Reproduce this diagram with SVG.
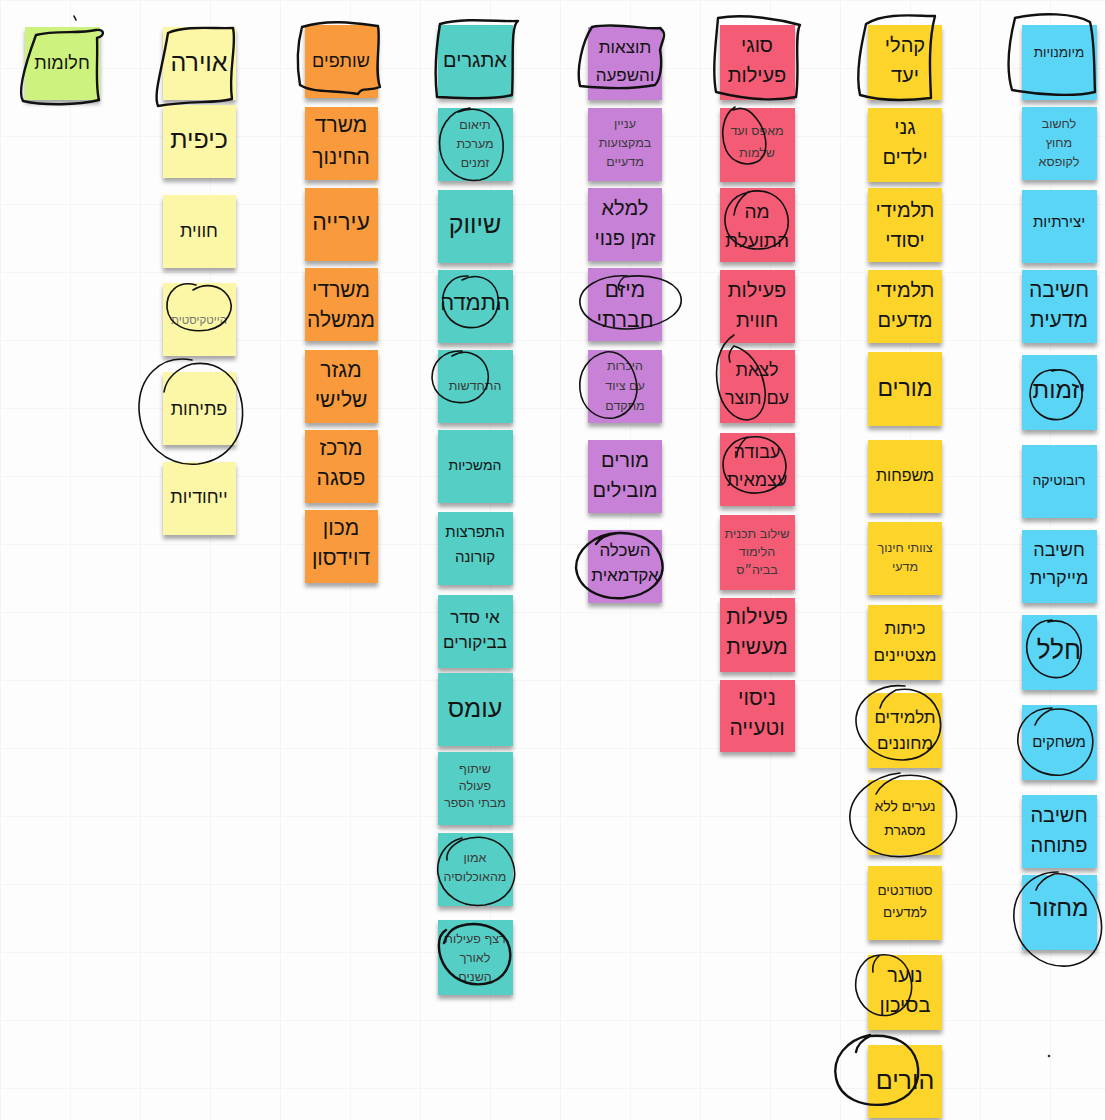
<svg xmlns="http://www.w3.org/2000/svg" width="1105" height="1120" viewBox="0 0 1105 1120">
<defs>
<pattern id="grid" width="70" height="68" patternUnits="userSpaceOnUse">
<path d="M70,0 L0,0 0,68" fill="none" stroke="#eeeeee" stroke-width="1"/>
</pattern>
<filter id="sh" x="-10%" y="-10%" width="120%" height="130%">
<feDropShadow dx="0" dy="4" stdDeviation="2" flood-color="#000" flood-opacity="0.35"/>
</filter>
</defs>
<style>
.n{filter:url(#sh)}
.green{fill:#cdf27e}
.ly{fill:#fcf7a6}
.or{fill:#f99b3c}
.te{fill:#55cfc5}
.pu{fill:#c781d6}
.rd{fill:#f45b74}
.go{fill:#fdd42a}
.bl{fill:#5ad5f6}
text{font-family:"Liberation Sans","DejaVu Sans",sans-serif;text-anchor:middle;fill:#141414;direction:rtl}
.xl{font-size:25px}
.l{font-size:21px}
.m{font-size:18px}
.s{font-size:14px}
.xs{font-size:12.5px;fill:#3a3a3a}
.ink{fill:none;stroke:#111;stroke-width:2.4;stroke-linecap:round;stroke-linejoin:round}
.ink2{fill:none;stroke:#111;stroke-width:1.6;stroke-linecap:round}
</style>
<rect width="1105" height="1120" fill="#fdfdfd"/>
<rect width="1105" height="1120" fill="url(#grid)"/>

<!-- Column 1 -->
<g id="n-chalomot"><rect class="n green" x="25" y="27" width="75" height="73"/><text class="m" x="62" y="69">חלומות</text></g>

<!-- Column 2 -->
<g id="n-avira"><rect class="n ly" x="163" y="27" width="73" height="73"/><text class="xl" x="199" y="71">אוירה</text></g>
<g id="n-kefit"><rect class="n ly" x="163" y="105" width="73" height="73"/><text class="xl" x="199" y="148">כיפית</text></g>
<g id="n-chavayatit"><rect class="n ly" x="163" y="195" width="73" height="73"/><text class="m" x="199" y="237">חווית</text></g>
<g id="n-hitech"><rect class="n ly" x="163" y="283" width="73" height="73"/><text x="199" y="324" style="font-size:11.5px;fill:#777">הייטקיסטית</text></g>
<g id="n-ptichut"><rect class="n ly" x="163" y="372" width="73" height="73"/><text class="m" x="199" y="415">פתיחות</text></g>
<g id="n-yichudiut"><rect class="n ly" x="163" y="462" width="73" height="73"/><text class="m" x="199" y="503">ייחודיות</text></g>

<!-- Column 3 -->
<g id="n-shutafim"><rect class="n or" x="305" y="25" width="73" height="73"/><text class="m" x="341" y="67">שותפים</text></g>
<g id="n-misrad"><rect class="n or" x="305" y="107" width="73" height="73"/><text class="l" x="341" y="132">משרד</text><text class="l" x="341" y="164">החינוך</text></g>
<g id="n-iriya"><rect class="n or" x="305" y="188" width="73" height="73"/><text class="l" x="341" y="230" style="font-size:23px">עירייה</text></g>
<g id="n-misradei"><rect class="n or" x="305" y="268" width="73" height="73"/><text class="l" x="341" y="297">משרדי</text><text class="l" x="341" y="327">ממשלה</text></g>
<g id="n-migzar"><rect class="n or" x="305" y="350" width="73" height="73"/><text class="l" x="341" y="377">מגזר</text><text class="l" x="341" y="407">שלישי</text></g>
<g id="n-pisga"><rect class="n or" x="305" y="430" width="73" height="73"/><text class="l" x="341" y="455">מרכז</text><text class="l" x="341" y="485">פסגה</text></g>
<g id="n-davidson"><rect class="n or" x="305" y="510" width="73" height="73"/><text class="l" x="341" y="535">מכון</text><text class="l" x="341" y="565">דוידסון</text></g>

<!-- Column 4 -->
<g id="n-etgarim"><rect class="n te" x="438" y="25" width="75" height="73"/><text class="l" x="475" y="67" style="font-size:20px">אתגרים</text></g>
<g id="n-teum"><rect class="n te" x="438" y="108" width="75" height="73"/><text class="xs" x="475" y="129">תיאום</text><text class="xs" x="475" y="148">מערכת</text><text class="xs" x="475" y="167">זמנים</text></g>
<g id="n-shivuk"><rect class="n te" x="438" y="190" width="75" height="73"/><text class="xl" x="475" y="233">שיווק</text></g>
<g id="n-hatmada"><rect class="n te" x="438" y="270" width="75" height="73"/><text class="l" x="475" y="310" style="font-size:22px">התמדה</text></g>
<g id="n-hitchadshut"><rect class="n te" x="438" y="350" width="75" height="73"/><text class="xs" x="475" y="390">התחדשות</text></g>
<g id="n-hemshechiut"><rect class="n te" x="438" y="430" width="75" height="73"/><text class="s" x="475" y="470">המשכיות</text></g>
<g id="n-corona"><rect class="n te" x="438" y="512" width="75" height="73"/><text class="s" x="475" y="537" style="font-size:15px">התפרצות</text><text class="s" x="475" y="562" style="font-size:15px">קורונה</text></g>
<g id="n-iseder"><rect class="n te" x="438" y="595" width="75" height="73"/><text class="m" x="475" y="623" style="font-size:17px">אי סדר</text><text class="m" x="475" y="648" style="font-size:17px">בביקורים</text></g>
<g id="n-omes"><rect class="n te" x="438" y="673" width="75" height="73"/><text class="xl" x="475" y="717">עומס</text></g>
<g id="n-shituf"><rect class="n te" x="438" y="752" width="75" height="73"/><text class="xs" x="475" y="773">שיתוף</text><text class="xs" x="475" y="790">פעולה</text><text class="xs" x="475" y="807">מבתי הספר</text></g>
<g id="n-emun"><rect class="n te" x="438" y="833" width="75" height="73"/><text class="xs" x="475" y="862">אמון</text><text class="xs" x="475" y="881">מהאוכלוסיה</text></g>
<g id="n-retzef"><rect class="n te" x="438" y="920" width="75" height="75"/><text class="xs" x="475" y="943">רצף פעילות</text><text class="xs" x="475" y="962">לאורך</text><text class="xs" x="475" y="981">השנים</text></g>

<!-- Column 5 -->
<g id="n-totzaot"><rect class="n pu" x="588" y="27" width="74" height="73"/><text class="m" x="625" y="53" style="font-size:17px">תוצאות</text><text class="m" x="625" y="81" style="font-size:17px">והשפעה</text></g>
<g id="n-inyan"><rect class="n pu" x="588" y="108" width="74" height="73"/><text class="xs" x="625" y="128">עניין</text><text class="xs" x="625" y="147">במקצועות</text><text class="xs" x="625" y="166">מדעיים</text></g>
<g id="n-lemale"><rect class="n pu" x="588" y="188" width="74" height="73"/><text class="l" x="625" y="215" style="font-size:20px">למלא</text><text class="l" x="625" y="245" style="font-size:20px">זמן פנוי</text></g>
<g id="n-mizam"><rect class="n pu" x="588" y="268" width="74" height="73"/><text class="l" x="625" y="297">מיזם</text><text class="l" x="625" y="327">חברתי</text></g>
<g id="n-hekerut"><rect class="n pu" x="588" y="350" width="74" height="73"/><text class="xs" x="625" y="370">היכרות</text><text class="xs" x="625" y="390">עם ציוד</text><text class="xs" x="625" y="410">מתקדם</text></g>
<g id="n-morim-movilim"><rect class="n pu" x="588" y="440" width="74" height="73"/><text class="l" x="625" y="467" style="font-size:20px">מורים</text><text class="l" x="625" y="497" style="font-size:20px">מובילים</text></g>
<g id="n-haskala"><rect class="n pu" x="588" y="530" width="74" height="73"/><text class="m" x="625" y="556" style="font-size:17px">השכלה</text><text class="m" x="625" y="581" style="font-size:17px">אקדמאית</text></g>

<!-- Column 6 -->
<g id="n-sugei"><rect class="n rd" x="720" y="25" width="75" height="75"/><text class="l" x="757" y="52" style="font-size:20px">סוגי</text><text class="l" x="757" y="82" style="font-size:20px">פעילות</text></g>
<g id="n-meefes"><rect class="n rd" x="720" y="108" width="75" height="74"/><text class="xs" x="757" y="135">מאפס ועד</text><text class="xs" x="757" y="157">שלמות</text></g>
<g id="n-toelet"><rect class="n rd" x="720" y="188" width="75" height="74"/><text class="m" x="757" y="218" style="font-size:19px">מה</text><text class="m" x="757" y="247" style="font-size:19px">התועלת</text></g>
<g id="n-peilut-chavayatit"><rect class="n rd" x="720" y="270" width="75" height="73"/><text class="l" x="757" y="297" style="font-size:20px">פעילות</text><text class="l" x="757" y="327" style="font-size:20px">חווית</text></g>
<g id="n-latzet"><rect class="n rd" x="720" y="350" width="75" height="73"/><text class="m" x="757" y="376">לצאת</text><text class="m" x="757" y="404">עם תוצר</text></g>
<g id="n-avoda"><rect class="n rd" x="720" y="433" width="75" height="73"/><text class="m" x="757" y="458">עבודה</text><text class="m" x="757" y="486">עצמאית</text></g>
<g id="n-shiluv"><rect class="n rd" x="720" y="515" width="75" height="75"/><text class="xs" x="757" y="538">שילוב תכנית</text><text class="xs" x="757" y="556">הלימוד</text><text class="xs" x="757" y="574">בביה״ס</text></g>
<g id="n-maasit"><rect class="n rd" x="720" y="598" width="75" height="74"/><text class="l" x="757" y="624">פעילות</text><text class="l" x="757" y="654">מעשית</text></g>
<g id="n-nisui"><rect class="n rd" x="720" y="680" width="75" height="72"/><text class="l" x="757" y="705">ניסוי</text><text class="l" x="757" y="735">וטעייה</text></g>

<!-- Column 7 -->
<g id="n-kehalei"><rect class="n go" x="868" y="25" width="74" height="75"/><text class="l" x="905" y="52" style="font-size:20px">קהלי</text><text class="l" x="905" y="82" style="font-size:20px">יעד</text></g>
<g id="n-ganei"><rect class="n go" x="868" y="108" width="74" height="74"/><text class="l" x="905" y="134" style="font-size:20px">גני</text><text class="l" x="905" y="164" style="font-size:20px">ילדים</text></g>
<g id="n-yesodi"><rect class="n go" x="868" y="188" width="74" height="74"/><text class="l" x="905" y="217" style="font-size:20px">תלמידי</text><text class="l" x="905" y="247" style="font-size:20px">יסודי</text></g>
<g id="n-madaim"><rect class="n go" x="868" y="270" width="74" height="73"/><text class="l" x="905" y="297" style="font-size:20px">תלמידי</text><text class="l" x="905" y="327" style="font-size:20px">מדעים</text></g>
<g id="n-morim"><rect class="n go" x="868" y="352" width="74" height="74"/><text class="xl" x="905" y="396" style="font-size:23px">מורים</text></g>
<g id="n-mishpachot"><rect class="n go" x="868" y="440" width="74" height="73"/><text class="s" x="905" y="481" style="font-size:16px">משפחות</text></g>
<g id="n-tzevet"><rect class="n go" x="868" y="522" width="74" height="73"/><text class="xs" x="905" y="552">צוותי חינוך</text><text class="xs" x="905" y="571">מדעי</text></g>
<g id="n-kitot"><rect class="n go" x="868" y="605" width="74" height="75"/><text class="m" x="905" y="634" style="font-size:17px">כיתות</text><text class="m" x="905" y="661" style="font-size:17px">מצטיינים</text></g>
<g id="n-mechonanim"><rect class="n go" x="868" y="693" width="74" height="75"/><text class="m" x="905" y="723" style="font-size:17px">תלמידים</text><text class="m" x="905" y="749" style="font-size:17px">מחוננים</text></g>
<g id="n-nearim"><rect class="n go" x="868" y="780" width="74" height="75"/><text class="s" x="905" y="811">נערים ללא</text><text class="s" x="905" y="835">מסגרת</text></g>
<g id="n-studentim"><rect class="n go" x="868" y="866" width="74" height="74"/><text class="xs" x="905" y="895" style="font-size:13.5px;fill:#222">סטודנטים</text><text class="xs" x="905" y="917" style="font-size:13.5px;fill:#222">למדעים</text></g>
<g id="n-noar"><rect class="n go" x="868" y="955" width="74" height="75"/><text class="l" x="905" y="982" style="font-size:20px">נוער</text><text class="l" x="905" y="1012" style="font-size:20px">בסיכון</text></g>
<g id="n-horim"><rect class="n go" x="868" y="1045" width="74" height="73"/><text class="xl" x="905" y="1089">הורים</text></g>

<!-- Column 8 -->
<g id="n-meyumanuyot"><rect class="n bl" x="1022" y="25" width="75" height="75"/><text class="xs" x="1059" y="57" style="font-size:13.5px;fill:#222">מיומנויות</text></g>
<g id="n-lachshov"><rect class="n bl" x="1022" y="107" width="75" height="73"/><text class="xs" x="1059" y="128">לחשוב</text><text class="xs" x="1059" y="147">מחוץ</text><text class="xs" x="1059" y="166">לקופסא</text></g>
<g id="n-yetziratiut"><rect class="n bl" x="1022" y="190" width="75" height="73"/><text class="s" x="1059" y="227" style="font-size:15px">יצירתיות</text></g>
<g id="n-chashiva-madait"><rect class="n bl" x="1022" y="270" width="75" height="73"/><text class="l" x="1059" y="297">חשיבה</text><text class="l" x="1059" y="327">מדעית</text></g>
<g id="n-yazamut"><rect class="n bl" x="1022" y="355" width="75" height="75"/><text class="xl" x="1059" y="398" style="font-size:24px">יזמות</text></g>
<g id="n-robotika"><rect class="n bl" x="1022" y="445" width="75" height="73"/><text class="s" x="1059" y="485">רובוטיקה</text></g>
<g id="n-maykerit"><rect class="n bl" x="1022" y="530" width="75" height="73"/><text class="m" x="1059" y="556">חשיבה</text><text class="m" x="1059" y="584">מייקרית</text></g>
<g id="n-chalal"><rect class="n bl" x="1022" y="615" width="75" height="75"/><text class="xl" x="1059" y="659" style="font-size:26px">חלל</text></g>
<g id="n-mischakim"><rect class="n bl" x="1022" y="705" width="75" height="75"/><text class="s" x="1059" y="747" style="font-size:15px">משחקים</text></g>
<g id="n-ptucha"><rect class="n bl" x="1022" y="795" width="75" height="73"/><text class="l" x="1059" y="822" style="font-size:20px">חשיבה</text><text class="l" x="1059" y="852" style="font-size:20px">פתוחה</text></g>
<g id="n-machzor"><rect class="n bl" x="1022" y="875" width="75" height="75"/><text class="xl" x="1059" y="916" style="font-size:24px">מחזור</text></g>

<!-- hand-drawn ink marks -->
<g id="ink">
<path class="ink" d="M36,35 C55,30 80,34 96,30 C104,29 106,35 97,38 C98,60 95,85 99,100 C78,105 45,106 23,101 C17,92 26,62 36,35"/>
<path class="ink2" d="M74,16 L76,20"/>
<path class="ink" d="M168,33 C185,25 215,29 233,28 C237,45 228,72 232,99 C215,104 190,100 158,106 C153,94 162,70 168,33 Z"/>
<path class="ink" d="M302,27 C330,18 362,24 378,26 C381,42 374,70 380,87 C368,92 362,86 358,94 C335,90 312,93 300,85 C296,62 298,42 302,27 Z"/>
<path class="ink" d="M440,24 C465,17 500,22 518,21 C510,26 514,62 512,95 C490,100 460,98 437,97 C434,72 437,42 440,24 Z"/>
<path class="ink" d="M592,27 C615,22 648,30 660,28 C668,34 662,40 660,50 C663,66 660,80 655,85 C630,90 600,88 580,86 C576,70 582,42 592,27"/>
<path class="ink" d="M718,18 C745,13 782,20 800,25 C794,35 800,72 796,97 C770,102 740,98 716,92 C712,70 716,42 718,18 Z"/>
<path class="ink" d="M866,24 C885,12 915,16 935,16 C928,42 930,75 931,98 C905,101 880,101 860,95 C855,72 862,42 866,24 Z"/>
<path class="ink" d="M1015,18 C1040,12 1075,13 1090,22 C1095,42 1094,70 1095,92 C1075,97 1040,95 1012,90 C1006,70 1009,42 1015,18 Z"/>

<path class="ink2" d="M196,285 C178,280 166,292 167,308 C169,326 188,333 208,330 C228,326 236,308 228,296 C220,284 204,283 193,290"/>
<path class="ink2" d="M192,360 C160,354 138,378 139,410 C141,445 168,467 198,464 C228,460 246,436 242,404 C238,376 218,360 192,364 C178,368 166,378 164,392"/>
<path class="ink2" d="M470,108 C448,110 437,130 440,150 C443,170 460,183 480,180 C500,176 506,155 502,135 C497,115 480,104 458,112"/>
<path class="ink2" d="M468,276 C450,275 441,290 443,305 C446,322 462,330 478,327 C495,323 501,307 497,292 C492,279 478,272 462,280"/>
<path class="ink2" d="M462,351 C444,350 432,362 432,378 C433,396 450,405 468,402 C486,398 492,380 486,366 C480,354 465,348 452,356"/>
<path class="ink2" d="M462,838 C445,842 436,858 438,874 C442,896 462,908 485,905 C508,901 519,883 513,863 C506,842 486,832 462,840 C452,845 446,852 447,860"/>
<path class="ink" d="M446,930 C436,936 437,955 446,968 C456,982 474,988 492,982 C510,975 514,955 507,941 C498,926 478,921 460,926 C452,928 446,935 444,943"/>
<path class="ink2" d="M628,276 C600,274 578,288 580,304 C583,322 610,332 640,328 C668,324 686,310 680,294 C674,280 650,273 624,277 C618,282 617,288 620,290"/>
<path class="ink2" d="M606,352 C588,356 578,372 580,390 C582,408 596,420 614,418 C632,414 640,396 636,380 C632,362 620,350 606,352"/>
<path class="ink" d="M618,533 C594,534 576,550 576,568 C578,588 598,600 624,598 C650,595 666,580 662,561 C658,542 640,532 618,533 C608,534 600,538 596,544"/>
<path class="ink2" d="M735,107 C722,115 720,135 726,150 C732,163 748,168 760,160 C770,150 766,130 756,118 C750,110 742,106 733,110"/>
<path class="ink2" d="M750,192 C730,195 722,212 726,228 C730,244 748,252 768,248 C786,243 792,226 786,210 C780,195 765,188 748,192 C740,198 735,205 734,215"/>
<path class="ink2" d="M734,335 C718,345 714,368 718,388 C722,408 734,420 748,420 C762,418 768,402 764,384 C760,364 748,350 734,346 C730,350 728,356 730,362"/>
<path class="ink2" d="M748,437 C730,440 720,455 724,472 C728,488 746,496 764,492 C782,488 790,472 784,456 C778,440 762,434 746,438 C740,444 737,450 737,456"/>
<path class="ink2" d="M905,686 C880,683 858,698 856,718 C855,740 875,760 903,760 C928,759 944,740 940,718 C936,698 918,686 896,690 C888,694 882,700 880,708"/>
<path class="ink2" d="M900,773 C872,776 848,796 850,820 C852,845 878,860 910,856 C942,852 960,832 956,808 C952,786 930,772 900,776 C888,780 880,786 876,794"/>
<path class="ink2" d="M880,955 C862,956 854,974 856,990 C860,1008 874,1018 890,1015 C906,1011 914,996 911,980 C908,964 898,953 880,955 C874,960 872,966 873,972"/>
<path class="ink" d="M870,1035 C846,1040 832,1058 836,1078 C840,1098 862,1108 888,1104 C912,1099 922,1082 917,1062 C912,1044 895,1034 870,1036 C862,1040 857,1046 856,1052"/>
<path class="ink2" d="M1058,370 C1040,368 1030,380 1030,395 C1031,412 1046,422 1062,419 C1078,415 1085,400 1081,386 C1077,374 1066,367 1052,371"/>
<path class="ink2" d="M1052,620 C1034,620 1025,636 1027,652 C1030,670 1046,680 1062,677 C1078,673 1084,656 1080,640 C1075,625 1062,618 1048,622"/>
<path class="ink2" d="M1052,708 C1030,708 1016,724 1018,744 C1021,764 1040,777 1062,775 C1084,772 1096,754 1092,734 C1088,716 1070,706 1050,710 C1042,714 1037,719 1035,725"/>
<path class="ink2" d="M1058,872 C1030,872 1012,894 1014,920 C1017,948 1040,968 1068,966 C1094,963 1106,940 1100,914 C1094,888 1076,872 1054,874 C1044,878 1038,884 1036,890"/>
<circle cx="1049" cy="1056" r="1.3" fill="#333"/>
</g>
</svg>
